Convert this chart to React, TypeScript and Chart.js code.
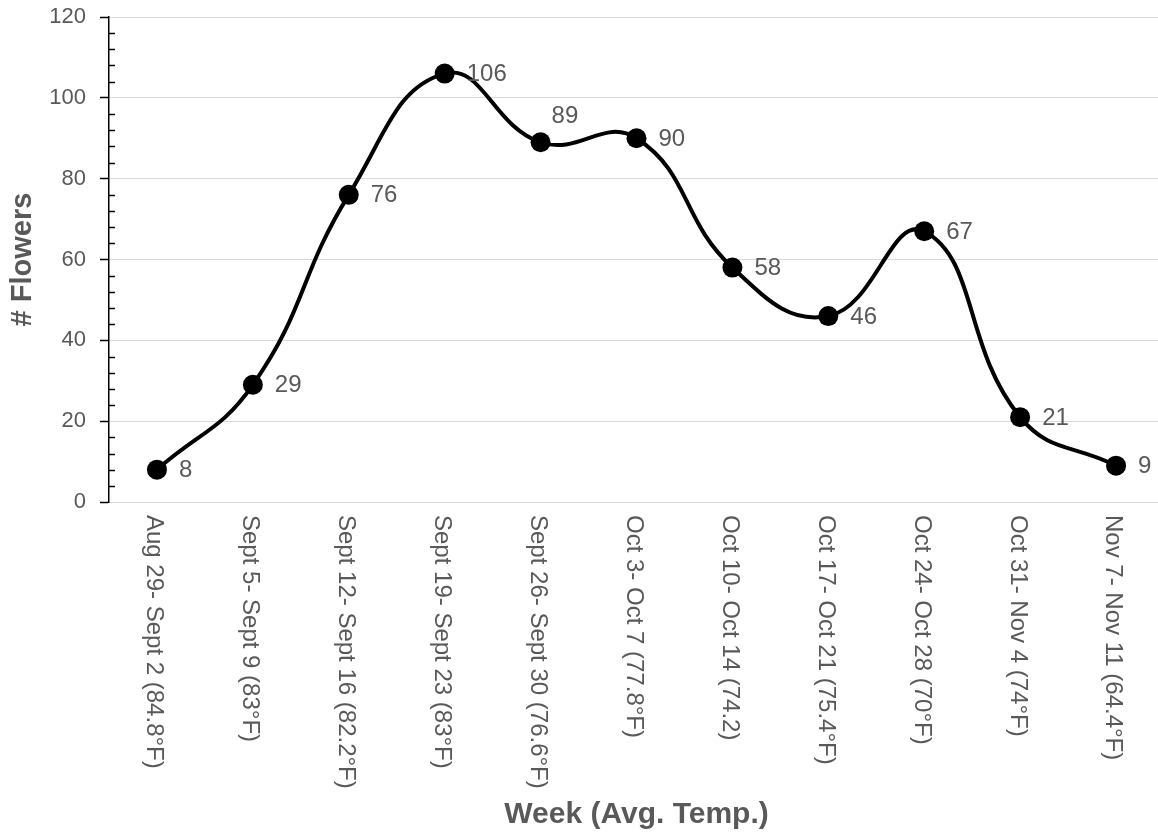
import { useEffect, useRef } from "react";
import { Chart, registerables } from "chart.js";

Chart.register(...registerables);

const weeks = [
  "Aug 29- Sept 2 (84.8°F)",
  "Sept 5- Sept 9 (83°F)",
  "Sept 12- Sept 16 (82.2°F)",
  "Sept 19- Sept 23 (83°F)",
  "Sept 26- Sept 30 (76.6°F)",
  "Oct 3- Oct 7 (77.8°F)",
  "Oct 10- Oct 14 (74.2)",
  "Oct 17- Oct 21 (75.4°F)",
  "Oct 24- Oct 28 (70°F)",
  "Oct 31- Nov 4 (74°F)",
  "Nov 7- Nov 11 (64.4°F)",
];
const flowers = [8, 29, 76, 106, 89, 90, 58, 46, 67, 21, 9];
const yMin = 0;
const yMax = 120;
const yMajorStep = 20;
const yMinorStep = 4;
const xTitle = "Week (Avg. Temp.)";
const yTitle = "# Flowers";

const FONT = "'Liberation Sans', Arial, sans-serif";
const GRAY = "#595959";
const GRID = "#d9d9d9";
const LABELS_ABOVE = [4];

const customPlugin = {
  id: "customDecor",
  afterDraw(chart: any) {
    const ctx = chart.ctx;
    const xs = chart.scales.x;
    const ys = chart.scales.y;
    const area = chart.chartArea;
    ctx.save();
    // minor ticks on the y axis (inside)
    ctx.strokeStyle = "#000";
    ctx.lineWidth = 1.5;
    for (let v = yMin; v <= yMax; v += yMinorStep) {
      if (v % yMajorStep === 0) continue;
      const py = Math.round(ys.getPixelForValue(v)) + 0.5;
      ctx.beginPath();
      ctx.moveTo(area.left, py);
      ctx.lineTo(area.left + 6, py);
      ctx.stroke();
    }
    // x category labels rotated clockwise
    ctx.fillStyle = GRAY;
    ctx.font = `24px ${FONT}`;
    ctx.textAlign = "left";
    ctx.textBaseline = "middle";
    weeks.forEach((w, i) => {
      const px = xs.getPixelForValue(i);
      ctx.save();
      ctx.translate(px - 3, area.bottom + 13);
      ctx.rotate(Math.PI / 2);
      ctx.fillText(w, 0, 0);
      ctx.restore();
    });
    // data labels
    const meta = chart.getDatasetMeta(0);
    ctx.font = `24px ${FONT}`;
    meta.data.forEach((pt: any, i: number) => {
      const above = LABELS_ABOVE.includes(i);
      ctx.fillText(
        String(flowers[i]),
        pt.x + (above ? 11 : 22),
        pt.y + (above ? -26 : 1)
      );
    });
    ctx.restore();
  },
};

export default function App() {
  const canvasRef = useRef<HTMLCanvasElement | null>(null);

  useEffect(() => {
    if (!canvasRef.current) return;
    const chart = new Chart(canvasRef.current, {
      type: "line",
      data: {
        labels: weeks,
        datasets: [
          {
            data: flowers,
            borderColor: "#000",
            backgroundColor: "#000",
            borderWidth: 4,
            tension: 0.45,
            pointRadius: 10,
            pointHoverRadius: 10,
            pointBackgroundColor: "#000",
            pointBorderWidth: 0,
            fill: false,
          },
        ],
      },
      options: {
        responsive: false,
        animation: false,
        events: [],
        layout: { padding: { top: 17, right: 6, bottom: 0, left: 0 } },
        plugins: {
          legend: { display: false },
          tooltip: { enabled: false },
        },
        scales: {
          x: {
            type: "category",
            offset: true,
            grid: { display: false, drawTicks: false },
            border: { color: GRID, width: 1 },
            ticks: { display: false },
            title: {
              display: true,
              text: xTitle,
              color: GRAY,
              font: { family: FONT, size: 30, weight: "bold" },
              padding: { top: 0, bottom: 5 },
            },
            afterFit: (s: any) => {
              s.height = 336;
              s.paddingLeft = 0;
              s.paddingRight = 0;
            },
          },
          y: {
            min: yMin,
            max: yMax,
            ticks: {
              stepSize: yMajorStep,
              color: GRAY,
              font: { family: FONT, size: 22 },
              padding: 14,
            },
            grid: {
              color: GRID,
              lineWidth: 1,
              tickColor: "#000",
              tickLength: 9,
              tickWidth: 1.5,
            },
            border: { color: "#000", width: 1.5 },
            title: {
              display: true,
              text: yTitle,
              color: GRAY,
              font: { family: FONT, size: 29, weight: "bold" },
              padding: { top: 6, bottom: 0 },
            },
            afterFit: (s: any) => {
              s.width = 109;
              s.paddingTop = 0;
              s.paddingBottom = 0;
            },
          },
        },
      },
      plugins: [customPlugin],
    });
    return () => chart.destroy();
  }, []);

  return (
    <div
      style={{
        position: "fixed",
        left: 0,
        top: 0,
        width: 1158,
        height: 838,
        overflow: "hidden",
        background: "#fff",
      }}
    >
      <canvas
        ref={canvasRef}
        width={1174}
        height={838}
        style={{ display: "block", width: 1174, height: 838 }}
      />
    </div>
  );
}
